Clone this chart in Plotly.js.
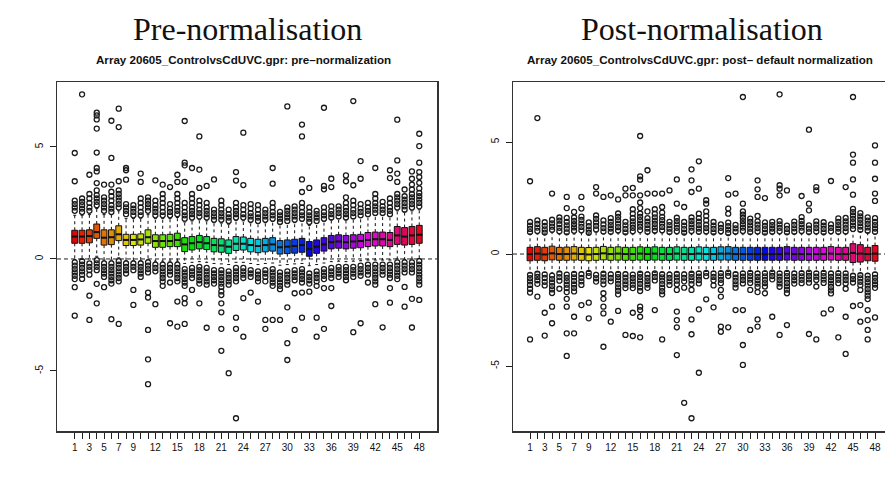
<!DOCTYPE html>
<html><head><meta charset="utf-8">
<script src="https://cdn.plot.ly/plotly-3.0.1.min.js"></script>
<style>html,body{margin:0;padding:0;background:#fff}#chart{width:885px;height:489px}</style>
</head><body><div id="chart"></div>
<script>
const arrays = [1,2,3,4,5,6,7,8,9,10,11,12,13,14,15,16,17,18,19,20,21,22,23,24,25,26,27,28,29,30,31,32,33,34,35,36,37,38,39,40,41,42,43,44,45,46,47,48];
const xTickLabels = ['1','','3','','5','','7','','9','','','12','','','15','','','18','','','21','','','24','','','27','','','30','','','33','','','36','','','39','','','42','','','45','','','48'];
const yTickVals = [-5,0,5];
const yTickLabels = ['-5','0','5'];

const titles = ['Pre-normalisation','Post-normalisation'];
const subtitles = ['Array 20605_ControlvsCdUVC.gpr: pre\u2013normalization','Array 20605_ControlvsCdUVC.gpr: post\u2013 default normalization'];

// ---------- Pre-normalisation ----------
const preMedian = [1.0,1.0,1.02,1.2,0.95,0.97,1.1,0.85,0.85,0.87,0.97,0.8,0.8,0.8,0.85,0.65,0.7,0.75,0.7,0.62,0.6,0.55,0.68,0.68,0.62,0.58,0.62,0.65,0.52,0.55,0.58,0.62,0.45,0.55,0.65,0.75,0.78,0.75,0.78,0.8,0.85,0.88,0.88,0.85,1.05,1.0,1.05,1.08];
const preQ1 = [0.7,0.7,0.72,0.92,0.62,0.64,0.82,0.6,0.6,0.62,0.7,0.52,0.52,0.55,0.55,0.33,0.4,0.45,0.42,0.32,0.3,0.25,0.38,0.4,0.32,0.28,0.32,0.35,0.22,0.24,0.26,0.3,0.12,0.25,0.35,0.45,0.48,0.45,0.48,0.5,0.55,0.58,0.58,0.55,0.65,0.62,0.65,0.7];
const preQ3 = [1.28,1.28,1.3,1.56,1.3,1.3,1.48,1.1,1.1,1.12,1.3,1.08,1.08,1.1,1.15,0.95,1.0,1.05,1.0,0.92,0.9,0.85,1.0,0.98,0.92,0.88,0.92,0.95,0.82,0.85,0.88,0.92,0.78,0.85,0.95,1.05,1.08,1.05,1.08,1.1,1.18,1.2,1.2,1.18,1.45,1.4,1.45,1.5];
const preLower = [-0.02,-0.02,0.0,0.12,-0.05,-0.05,0.05,-0.08,-0.08,-0.08,-0.02,-0.1,-0.1,-0.1,-0.1,-0.2,-0.15,-0.12,-0.15,-0.2,-0.22,-0.25,-0.15,-0.15,-0.2,-0.25,-0.2,-0.18,-0.28,-0.25,-0.22,-0.2,-0.3,-0.25,-0.18,-0.12,-0.1,-0.12,-0.1,-0.08,-0.05,-0.05,-0.05,-0.05,0.0,-0.02,0.0,0.02];
const preUpper = [1.95,1.95,1.98,2.25,1.98,1.98,2.15,1.8,1.8,1.82,1.98,1.8,1.8,1.8,1.85,1.65,1.7,1.75,1.7,1.62,1.6,1.55,1.72,1.7,1.62,1.58,1.62,1.68,1.55,1.58,1.62,1.68,1.5,1.58,1.68,1.75,1.8,1.75,1.8,1.85,1.9,1.95,1.95,1.9,2.15,2.1,2.15,2.2];
const preOutliers = [
 [2.15,2.3,2.45,2.6,3.47,4.73,-0.15,-0.3,-0.45,-0.6,-0.75,-0.9,-1.26,-2.53],
 [2.1,2.25,2.4,2.55,2.7,7.35,-0.1,-0.25,-0.4,-0.55,-0.7,-0.89],
 [2.15,2.3,2.5,2.7,2.9,3.76,-0.2,-0.35,-0.5,-0.7,-1.64,-2.72],
 [2.4,2.55,2.7,2.85,3.06,3.39,3.91,4.06,4.75,5.82,6.23,6.41,6.53,-0.05,-0.2,-0.35,-0.5,-1.11,-1.98],
 [2.15,2.3,2.45,2.6,2.75,3.32,-0.2,-0.35,-0.5,-0.65,-0.8,-1.26],
 [2.1,2.25,2.4,2.6,2.8,3.0,3.32,4.51,6.17,-0.2,-0.35,-0.5,-0.65,-0.8,-0.95,-1.1,-2.69],
 [2.3,2.45,2.6,2.75,2.9,3.06,3.47,5.89,6.71,-0.1,-0.25,-0.4,-0.55,-0.7,-0.85,-1.0,-2.9],
 [2.0,2.15,2.3,2.45,3.54,3.96,4.06,-0.2,-0.35,-0.5,-0.65],
 [1.95,2.1,2.25,2.4,-0.2,-0.35,-0.5,-1.38,-2.05],
 [1.95,2.1,2.3,2.5,2.7,3.44,3.81,-0.2,-0.35,-0.5,-0.65,-0.8],
 [2.15,2.3,2.45,2.6,2.75,-0.15,-0.3,-0.45,-0.6,-1.5,-1.72,-3.17,-4.48,-5.59],
 [1.95,2.1,2.25,2.4,2.6,3.51,-0.25,-0.4,-0.55,-2.02],
 [1.95,2.1,2.3,2.5,2.7,2.9,3.32,-0.25,-0.4,-0.55,-0.7,-0.85,-1.0,-1.2],
 [1.95,2.1,2.25,2.45,3.21,-0.25,-0.4,-0.55,-0.7,-1.05,-2.87],
 [2.0,2.15,2.3,2.5,2.7,2.9,3.44,3.76,-0.25,-0.4,-0.55,-0.7,-0.85,-1.0,-1.9,-3.02],
 [1.8,1.95,2.1,2.3,2.5,3.44,4.18,4.3,6.16,-0.45,-0.6,-0.75,-0.9,-1.05,-1.2,-1.75,-1.98,-2.9],
 [1.85,2.0,2.15,2.3,2.5,2.7,2.9,4.06,-0.4,-0.55,-0.7,-0.85,-1.38],
 [1.9,2.05,2.2,2.4,2.6,3.17,3.99,5.47,-0.35,-0.5,-0.65,-0.8,-0.95,-1.1,-1.98],
 [1.85,2.0,2.15,2.3,2.5,3.26,-0.4,-0.55,-0.7,-0.85,-1.0,-1.15,-3.07],
 [1.75,1.9,2.05,2.2,3.55,-0.5,-0.65,-0.8,-0.95,-1.1],
 [1.75,1.9,2.05,2.2,2.4,2.6,-0.5,-0.65,-0.8,-0.95,-1.1,-1.25,-1.45,-1.61,-1.98,-2.38,-3.12,-4.1],
 [1.7,1.85,2.0,2.2,-0.55,-0.7,-0.85,-1.0,-1.15,-5.1],
 [1.85,2.0,2.15,2.3,2.5,3.5,3.88,-0.4,-0.55,-0.7,-0.85,-1.0,-2.62,-3.12,-7.11],
 [1.85,2.0,2.2,2.4,3.3,5.64,-0.4,-0.55,-0.7,-0.85,-1.75,-3.47],
 [1.75,1.9,2.05,2.25,2.45,-0.5,-0.65,-0.8,-1.5],
 [1.7,1.85,2.0,2.2,2.4,-0.55,-0.7,-0.85,-1.0,-1.9],
 [1.75,1.9,2.05,2.2,-0.5,-0.65,-0.8,-1.0,-2.72,-3.12],
 [1.8,1.95,2.1,2.3,2.5,3.36,4.06,-0.45,-0.6,-0.75,-0.9,-1.05,-1.2,-2.72],
 [1.65,1.8,1.95,2.1,-0.6,-0.75,-0.9,-1.05,-1.2,-1.35,-2.72],
 [1.7,1.85,2.0,2.15,2.3,6.81,-0.55,-0.7,-0.85,-1.0,-1.15,-2.16,-3.76,-4.51],
 [1.75,1.9,2.05,2.2,2.35,-0.5,-0.65,-0.8,-0.95,-1.53,-3.17],
 [1.8,1.95,2.1,2.3,2.5,2.99,3.55,5.47,6.0,-0.45,-0.6,-0.75,-0.9,-1.05,-1.5,-2.62],
 [1.65,1.8,1.95,2.1,2.3,3.17,-0.65,-0.8,-0.95,-1.1,-1.46],
 [1.7,1.85,2.0,2.15,-0.55,-0.7,-0.85,-1.0,-1.2,-2.62,-3.47],
 [1.8,1.95,2.1,2.3,3.11,3.26,6.75,-0.45,-0.6,-0.75,-0.9,-1.3,-3.12],
 [1.85,2.0,2.15,2.35,3.21,3.58,-0.4,-0.55,-0.7,-0.85,-1.3,-2.1],
 [1.9,2.05,2.2,2.35,-0.35,-0.5,-0.65,-0.8],
 [1.85,2.0,2.15,2.3,2.5,2.75,3.47,3.73,-0.35,-0.5,-0.65,-0.8,-0.95],
 [1.9,2.05,2.2,2.4,2.6,3.29,7.05,-0.35,-0.5,-0.65,-0.8,-3.27],
 [1.95,2.1,2.25,2.45,3.58,4.37,-0.3,-0.45,-0.6,-0.75,-2.87],
 [2.0,2.15,2.3,2.5,-0.25,-0.4,-0.55,-0.7,-1.05],
 [2.05,2.2,2.35,2.5,2.7,2.9,4.06,-0.25,-0.4,-0.55,-0.7,-0.85,-1.0,-1.15,-2.02],
 [2.05,2.2,2.35,2.55,-0.25,-0.4,-0.55,-0.7,-3.05],
 [2.0,2.15,2.3,2.5,2.7,3.61,3.96,-0.25,-0.4,-0.55,-0.7,-0.85,-1.3,-1.95],
 [2.3,2.45,2.6,2.75,2.9,3.44,3.81,4.4,6.22,-0.15,-0.3,-0.45,-0.6,-0.75,-0.9],
 [2.2,2.35,2.5,2.65,2.8,3.1,-0.15,-0.3,-0.45,-0.6,-1.25,-2.13],
 [2.3,2.45,2.6,2.75,2.9,3.1,3.32,3.58,3.91,-0.15,-0.3,-0.45,-0.6,-1.78,-3.06],
 [2.35,2.5,2.65,2.8,2.95,3.15,3.4,3.66,3.88,4.3,5.04,5.59,-0.1,-0.25,-0.4,-0.55,-0.7,-0.85,-1.0,-1.15,-1.83]
];

// ---------- Post-normalisation ----------
const postMedian = [0.0,0.02,-0.02,0.03,0.0,0.0,0.02,0.0,-0.02,0.0,0.03,0.0,0.02,0.0,0.0,0.02,0.0,0.02,0.0,0.0,0.02,0.0,0.0,0.02,0.0,0.0,0.02,0.02,0.0,0.0,0.0,0.0,0.0,0.0,0.0,0.02,0.0,0.0,0.0,0.0,0.0,0.02,0.0,0.0,0.05,0.02,0.0,0.02];
const postQ1 = [-0.3,-0.28,-0.3,-0.26,-0.28,-0.28,-0.27,-0.28,-0.3,-0.28,-0.26,-0.28,-0.27,-0.28,-0.28,-0.27,-0.28,-0.27,-0.28,-0.28,-0.27,-0.28,-0.28,-0.27,-0.28,-0.28,-0.27,-0.27,-0.28,-0.28,-0.28,-0.28,-0.28,-0.28,-0.28,-0.27,-0.28,-0.28,-0.28,-0.28,-0.28,-0.27,-0.28,-0.28,-0.38,-0.36,-0.3,-0.32];
const postQ3 = [0.3,0.33,0.3,0.35,0.3,0.31,0.33,0.3,0.29,0.3,0.34,0.3,0.32,0.3,0.3,0.32,0.3,0.32,0.3,0.3,0.32,0.3,0.3,0.32,0.3,0.3,0.32,0.33,0.3,0.3,0.3,0.3,0.3,0.3,0.3,0.33,0.3,0.3,0.3,0.3,0.3,0.33,0.3,0.3,0.46,0.42,0.3,0.38];
const postLower = [-0.85,-0.8,-0.82,-0.85,-0.8,-0.82,-0.82,-0.8,-0.78,-0.82,-0.82,-0.8,-0.82,-0.8,-0.82,-0.82,-0.8,-0.82,-0.82,-0.8,-0.82,-0.8,-0.82,-0.78,-0.78,-0.78,-0.78,-0.78,-0.82,-0.78,-0.78,-0.78,-0.78,-0.78,-0.78,-0.78,-0.78,-0.78,-0.78,-0.78,-0.78,-0.78,-0.78,-0.78,-0.88,-0.88,-0.88,-0.82];
const postUpper = [0.9,0.9,0.9,0.98,0.9,0.9,0.9,0.95,0.9,0.98,0.9,0.9,0.95,0.9,0.9,0.95,0.9,0.95,0.95,0.9,0.9,0.9,0.9,0.9,0.9,0.9,0.9,0.86,0.9,0.9,0.9,0.9,0.9,0.9,0.9,0.9,0.9,0.9,0.9,0.9,0.9,0.9,0.9,0.9,1.0,1.0,0.95,0.9];
const postOutliers = [
 [0.98,1.12,1.27,1.43,3.25,-0.93,-1.08,-1.22,-1.38,-1.55,-1.72,-3.81],
 [1.03,1.18,1.34,1.5,6.07,-0.88,-1.02,-1.17,-1.33,-1.9],
 [0.96,1.1,1.26,1.42,-0.91,-1.07,-1.24,-1.4,-2.62,-3.64],
 [1.08,1.22,1.37,1.53,2.7,-0.96,-1.12,-1.27,-1.43,-1.58,-1.74,-2.35,-3.09],
 [1.02,1.17,1.33,1.49,1.63,-0.87,-1.03,-1.19,-1.55],
 [0.97,1.13,1.28,1.44,1.61,2.05,2.55,-0.92,-1.06,-1.21,-1.37,-1.52,-1.7,-2.0,-2.35,-3.54,-4.55],
 [1.04,1.19,1.33,1.48,1.63,1.88,-0.89,-1.04,-1.2,-1.36,-1.51,-1.67,-2.8,-3.54],
 [1.06,1.21,1.36,1.52,1.67,2.03,2.55,-0.9,-1.06,-1.22,-1.38,-2.28],
 [0.95,1.09,1.25,1.41,-0.84,-0.99,-2.17,-2.87],
 [1.1,1.26,1.41,1.57,1.72,2.7,2.99,-0.93,-1.08,-1.23],
 [1.01,1.16,1.32,1.5,2.55,-0.88,-1.04,-1.19,-1.35,-1.75,-2.0,-2.35,-2.65,-4.14],
 [0.99,1.14,1.29,1.44,1.6,2.62,-0.91,-1.07,-1.22,-3.02],
 [1.05,1.2,1.36,1.51,1.66,1.81,2.44,-0.89,-1.03,-1.18,-1.33,-1.49,-1.64,-1.8,-2.54],
 [0.97,1.12,1.28,1.44,2.62,2.92,-0.9,-1.05,-1.21,-1.36,-1.52,-3.61],
 [1.02,1.17,1.31,1.46,1.61,1.8,2.0,2.62,2.95,-0.92,-1.07,-1.22,-1.37,-1.52,-2.62,-3.66],
 [1.07,1.22,1.36,1.51,1.66,1.81,2.05,2.3,2.62,3.32,3.47,5.27,-0.88,-1.03,-1.18,-1.33,-1.49,-1.65,-2.35,-2.5,-2.8,-3.72],
 [0.99,1.14,1.3,1.45,1.6,1.9,2.7,3.74,-0.91,-1.06,-1.21,-1.36,-1.51],
 [1.04,1.19,1.34,1.49,1.64,1.8,2.0,2.7,-0.87,-1.02,-1.18,-2.5],
 [1.06,1.21,1.36,1.51,1.66,1.85,2.1,2.7,-0.9,-1.04,-1.19,-1.34,-1.5,-1.66,-1.8,-3.81],
 [0.98,1.13,1.29,1.44,2.84,-0.92,-1.07,-1.22,-1.38],
 [1.02,1.17,1.32,1.47,1.62,2.25,3.33,-0.89,-1.04,-1.19,-1.35,-1.6,-2.57,-2.95,-3.27,-4.51],
 [0.96,1.11,1.27,1.43,2.1,-0.91,-1.06,-1.22,-1.5,-6.64],
 [1.03,1.18,1.33,1.48,1.63,2.77,3.29,3.78,-0.88,-1.03,-1.18,-1.34,-1.6,-2.92,-3.58,-7.33],
 [0.99,1.14,1.29,1.45,1.6,1.8,2.92,4.14,-0.86,-1.01,-1.16,-1.31,-2.47,-5.3],
 [1.01,1.16,1.31,1.5,1.7,1.9,2.25,2.4,-0.84,-0.99,-2.02],
 [0.97,1.12,1.27,1.43,-0.87,-1.02,-1.17,-1.4,-2.38],
 [1.02,1.17,1.32,-0.85,-1.0,-1.15,-1.3,-1.6,-1.9,-3.24,-3.47],
 [0.94,1.09,1.24,1.4,1.8,2.03,2.65,3.39,-0.83,-0.98,-3.27],
 [1.0,1.15,1.3,2.7,-0.9,-1.05,-1.2,-1.35,-1.5,-2.5],
 [1.03,1.18,1.33,1.47,1.62,1.76,1.9,2.25,7.01,-0.86,-1.01,-1.16,-1.31,-2.5,-4.06,-4.95],
 [0.98,1.13,1.28,1.43,1.58,-0.84,-0.99,-1.14,-1.29,-1.6,-3.39],
 [1.01,1.16,1.31,1.46,1.7,2.55,2.89,3.29,-0.87,-1.02,-1.17,-1.32,-1.47,-1.7,-2.92,-3.24],
 [0.96,1.11,1.26,1.41,2.5,-0.85,-1.0,-1.15,-1.3,-1.45,-1.75],
 [1.0,1.14,1.29,1.44,-0.83,-0.98,-1.13,-2.8],
 [1.02,1.17,1.32,1.47,2.62,2.92,3.07,7.13,-0.86,-1.01,-1.16,-1.31,-1.46,-3.61],
 [0.97,1.12,1.27,2.84,-0.84,-0.99,-1.14,-1.29,-1.44,-1.59,-1.75,-3.17],
 [1.0,1.15,1.3,1.45,-0.87,-1.02,-1.17,-1.32],
 [1.03,1.18,1.33,1.48,1.65,2.59,-0.85,-1.0,-1.15,-1.3],
 [0.98,1.13,1.28,1.95,2.25,5.55,-0.83,-0.98,-1.13,-1.28,-3.57],
 [1.01,1.16,1.31,1.46,2.84,2.99,-0.86,-1.01,-1.16,-1.45,-3.81],
 [0.97,1.12,1.27,1.42,-0.84,-0.99,-1.14,-1.29,-2.65],
 [1.02,1.17,1.32,3.26,-0.87,-1.02,-1.17,-1.32,-1.47,-1.62,-1.76,-2.47],
 [0.99,1.14,1.29,1.44,1.59,-0.85,-1.0,-1.15,-1.3,-3.72],
 [1.01,1.16,1.31,1.46,1.61,2.99,-0.86,-1.01,-1.16,-1.31,-1.55,-2.8,-4.46],
 [1.12,1.27,1.42,1.57,1.72,1.87,2.02,2.65,3.33,4.08,4.44,7.01,-0.97,-1.12,-1.27,-2.32],
 [1.08,1.23,1.38,1.53,1.68,1.83,-0.94,-1.09,-1.24,-1.39,-1.6,-2.28,-3.02],
 [1.04,1.19,1.34,1.49,1.64,-0.96,-1.11,-1.26,-1.41,-1.56,-1.71,-1.86,-2.01,-2.5,-2.95,-3.39,-3.81],
 [0.99,1.14,1.29,1.44,1.6,2.37,2.7,3.36,4.08,4.85,-0.91,-1.06,-1.21,-1.36,-1.51,-2.83]
];

// ---------- drawing ----------
const BOX_HALF = 0.4, CAP_HALF = 0.2;
function boxColor(k, n) { return 'hsl(' + (k * 360 / n).toFixed(1) + ',95%,45%)'; }

function panelTraces(xa, ya, med, q1, q3, lo, hi, outs) {
  const tr = [];
  const n = arrays.length;
  arrays.forEach((pos, k) => {
    tr.push({
      type: 'box', xaxis: xa, yaxis: ya, x: [pos],
      q1: [q1[k]], median: [med[k]], q3: [q3[k]],
      lowerfence: [q1[k]], upperfence: [q3[k]],
      width: 2 * BOX_HALF, whiskerwidth: 0, boxpoints: false,
      fillcolor: boxColor(k, n), line: { color: '#111', width: 1 },
      hoverinfo: 'skip', showlegend: false
    });
  });
  const wx = [], wy = [];
  arrays.forEach((pos, k) => {
    wx.push(pos, pos, null, pos, pos, null);
    wy.push(q3[k], hi[k], null, q1[k], lo[k], null);
  });
  tr.push({ type: 'scatter', mode: 'lines', xaxis: xa, yaxis: ya, x: wx, y: wy,
    line: { color: '#111', width: 1, dash: '3px,3px' }, hoverinfo: 'skip', showlegend: false });
  const cx = [], cy = [], mx = [], my = [];
  arrays.forEach((pos, k) => {
    cx.push(pos - CAP_HALF, pos + CAP_HALF, null, pos - CAP_HALF, pos + CAP_HALF, null);
    cy.push(hi[k], hi[k], null, lo[k], lo[k], null);
    mx.push(pos - BOX_HALF, pos + BOX_HALF, null);
    my.push(med[k], med[k], null);
  });
  tr.push({ type: 'scatter', mode: 'lines', xaxis: xa, yaxis: ya, x: cx, y: cy,
    line: { color: '#111', width: 1 }, hoverinfo: 'skip', showlegend: false });
  tr.push({ type: 'scatter', mode: 'lines', xaxis: xa, yaxis: ya, x: mx, y: my,
    line: { color: '#111', width: 2 }, hoverinfo: 'skip', showlegend: false });
  const ox = [], oy = [];
  arrays.forEach((pos, k) => { outs[k].forEach(v => { ox.push(pos); oy.push(v); }); });
  tr.push({ type: 'scatter', mode: 'markers', xaxis: xa, yaxis: ya, x: ox, y: oy,
    marker: { symbol: 'circle-open', size: 5, color: '#1a1a1a', line: { width: 1.3 } },
    hoverinfo: 'skip', showlegend: false });
  return tr;
}

const data = [].concat(
  panelTraces('x', 'y', preMedian, preQ1, preQ3, preLower, preUpper, preOutliers),
  panelTraces('x2', 'y2', postMedian, postQ1, postQ3, postLower, postUpper, postOutliers)
);

const W = 885, H = 489;
const px = v => v / W, py = v => 1 - v / H;
const tickFont = { family: 'Liberation Sans, Arial, sans-serif', size: 10, color: '#111' };
function xAxis(domain, range, anchor) {
  return { domain: domain, range: range, anchor: anchor, tickvals: arrays, ticktext: xTickLabels, tickangle: 0,
    ticks: 'outside', ticklen: 6, tickwidth: 1, tickcolor: '#222', tickfont: tickFont,
    showgrid: false, zeroline: false, showline: true, mirror: true, linecolor: '#333', linewidth: 1.5 };
}
function yAxis(anchor, range, mirror) {
  return { domain: [py(431), py(82)], range: range, anchor: anchor, tickvals: yTickVals, ticktext: yTickLabels,
    tickangle: -90, ticks: 'outside', ticklen: 6, tickwidth: 1, tickcolor: '#222', tickfont: tickFont,
    ticklabelstandoff: 3,
    showgrid: false, zeroline: false, showline: true, mirror: mirror, linecolor: '#333', linewidth: 1.5 };
}

const layout = {
  width: W, height: H, margin: { l: 0, r: 0, t: 0, b: 0 },
  paper_bgcolor: '#fff', plot_bgcolor: '#fff', showlegend: false, boxmode: 'overlay',
  xaxis: xAxis([px(57), px(437)], [-1.42, 50.42], 'y'),
  yaxis: yAxis('x', [-7.68, 7.9], true),
  xaxis2: xAxis([px(513), 1], [-1.32, 49.36], 'y2'),
  yaxis2: yAxis('x2', [-7.9, 7.68], false),
  shapes: [
    { type: 'line', xref: 'x domain', yref: 'y', x0: 0, x1: 1, y0: 0, y1: 0, layer: 'below',
      line: { color: '#222', width: 1, dash: '4px,3px' } },
    { type: 'line', xref: 'x2 domain', yref: 'y2', x0: 0, x1: 1, y0: 0, y1: 0, layer: 'below',
      line: { color: '#222', width: 1, dash: '4px,3px' } }
  ],
  annotations: [
    { text: titles[0], x: px(247), y: py(29), xref: 'paper', yref: 'paper', showarrow: false,
      xanchor: 'center', yanchor: 'middle', font: { family: 'Liberation Serif, Times New Roman, serif', size: 32, color: '#111' } },
    { text: titles[1], x: px(702), y: py(29), xref: 'paper', yref: 'paper', showarrow: false,
      xanchor: 'center', yanchor: 'middle', font: { family: 'Liberation Serif, Times New Roman, serif', size: 32, color: '#111' } },
    { text: '<b>' + subtitles[0] + '</b>', x: px(243), y: py(60), xref: 'paper', yref: 'paper', showarrow: false,
      xanchor: 'center', yanchor: 'middle', font: { family: 'Liberation Sans, Arial, sans-serif', size: 11.6, color: '#111' } },
    { text: '<b>' + subtitles[1] + '</b>', x: px(700), y: py(60), xref: 'paper', yref: 'paper', showarrow: false,
      xanchor: 'center', yanchor: 'middle', font: { family: 'Liberation Sans, Arial, sans-serif', size: 11.6, color: '#111' } }
  ]
};

Plotly.newPlot('chart', data, layout, { staticPlot: true, displayModeBar: false });
</script></body></html>
